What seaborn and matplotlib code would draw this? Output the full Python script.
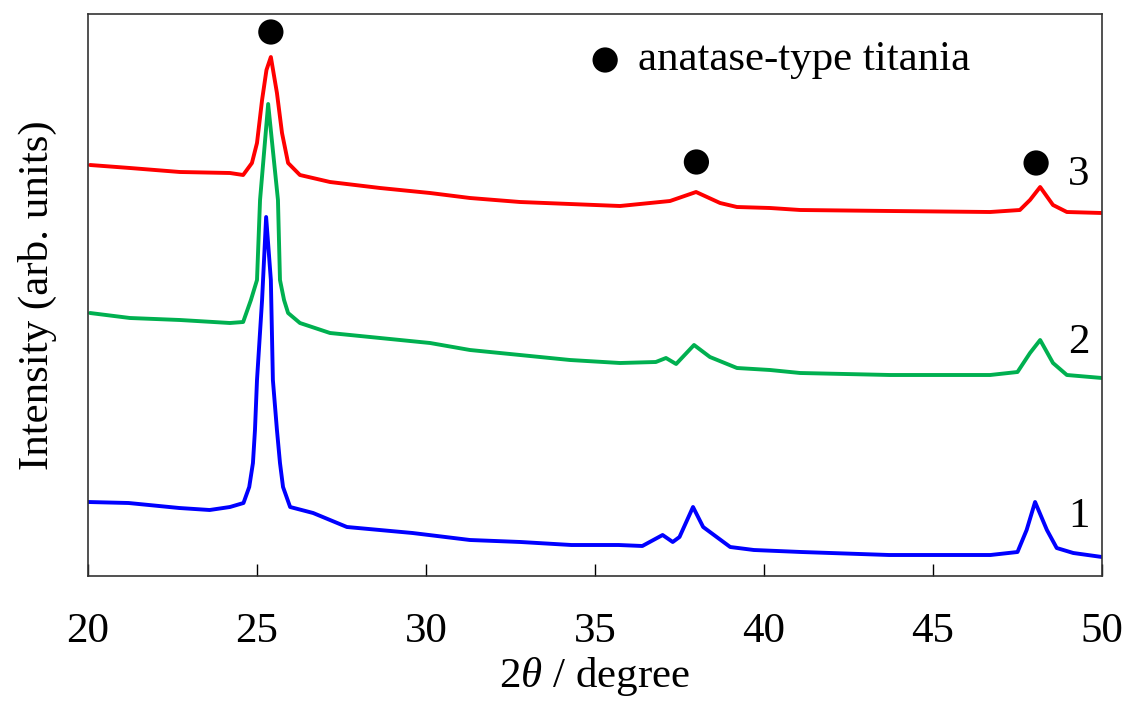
import numpy as np
import pandas as pd
import matplotlib
matplotlib.use("Agg")
import matplotlib.pyplot as plt
import seaborn as sns

# ---- data (2theta in degree, intensity in arb. units) ----
x1 = [20.0, 21.2, 22.7, 23.6, 24.2, 24.6, 24.77, 24.88, 24.94, 25.0, 25.15, 25.27,
      25.41, 25.47, 25.59, 25.68, 25.77, 25.98, 26.66, 27.66, 29.6, 31.3, 32.8, 34.3,
      35.7, 36.4, 37.0, 37.3, 37.5, 37.9, 38.2, 38.6, 39.0, 39.7, 41.1, 43.7, 46.7,
      47.5, 47.77, 48.02, 48.37, 48.66, 49.15, 50.0]
y1 = [74, 73, 68, 66, 69, 73, 89, 113, 146, 196, 276, 359,
      296, 196, 146, 113, 89, 69, 63, 49, 43, 36, 34, 31,
      31, 30, 41, 34, 39, 69, 49, 39, 29, 26, 24, 21, 21,
      24, 46, 74, 46, 28, 23, 19]

x2 = [20.06, 21.24, 22.72, 24.2, 24.59, 24.82, 25.0, 25.09, 25.33, 25.62, 25.68, 25.8,
      25.92, 26.27, 27.16, 28.64, 30.12, 31.3, 32.78, 34.26, 35.74, 36.8, 37.1, 37.4,
      37.93, 38.4, 39.2, 40.18, 41.07, 43.73, 46.69, 47.5, 47.87, 48.17, 48.55, 48.96, 50.0]
y2 = [263, 258, 256, 253, 254, 276, 296, 376, 472, 376, 296, 276,
      263, 253, 243, 238, 233, 226, 221, 216, 213, 214, 218, 212,
      231, 219, 208, 206, 203, 201, 201, 204, 223, 236, 213, 201, 198]

x3 = [20.06, 21.24, 22.72, 24.2, 24.59, 24.85, 25.0, 25.15, 25.28, 25.41, 25.59, 25.74,
      25.92, 26.27, 27.16, 28.64, 30.12, 31.3, 32.78, 34.26, 35.74, 37.22, 37.99, 38.7,
      39.2, 40.18, 41.07, 43.73, 46.69, 47.57, 47.87, 48.17, 48.55, 48.96, 50.0]
y3 = [411, 408, 404, 403, 401, 413, 433, 476, 506, 519, 483, 443,
      413, 401, 394, 388, 383, 378, 374, 372, 370, 375, 384, 373,
      369, 368, 366, 365, 364, 366, 376, 389, 371, 364, 363]

samples = ["1", "2", "3"]
colors = {"1": "#0000FF", "2": "#00B050", "3": "#FF0000"}

# anatase peak markers
peak_x = [25.41, 38.0, 48.05]
peak_y = [544, 414, 413]
legend_label = "anatase-type titania"
legend_dot = (35.3, 516)
label_pos_x = 49.32
label_pos_y = [59, 233, 401]

xticks = [20, 25, 30, 35, 40, 45, 50]

df = pd.concat([
    pd.DataFrame({"two_theta": x1, "intensity": y1, "sample": "1"}),
    pd.DataFrame({"two_theta": x2, "intensity": y2, "sample": "2"}),
    pd.DataFrame({"two_theta": x3, "intensity": y3, "sample": "3"}),
], ignore_index=True)

sns.set_theme(style="white")
plt.rcParams["font.family"] = ["Liberation Serif", "DejaVu Serif"]
plt.rcParams["mathtext.fontset"] = "custom"
plt.rcParams["mathtext.rm"] = "Liberation Serif"
plt.rcParams["mathtext.it"] = "Liberation Serif:italic"
plt.rcParams["text.color"] = "black"
plt.rcParams["axes.labelcolor"] = "black"
plt.rcParams["xtick.color"] = "black"
plt.rcParams["xtick.labelcolor"] = "black"

fig = plt.figure(figsize=(11.3, 7.09), dpi=100)
ax = fig.add_axes([88 / 1130, 1 - 576 / 709, (1102 - 88) / 1130, (576 - 14) / 709])

sns.lineplot(data=df, x="two_theta", y="intensity", hue="sample", palette=colors,
             estimator=None, sort=False, linewidth=2.8, legend=False, ax=ax)

sns.scatterplot(x=peak_x, y=peak_y, color="black", s=330, edgecolor="none", ax=ax)
sns.scatterplot(x=[legend_dot[0]], y=[legend_dot[1]], color="black", s=330,
                edgecolor="none", ax=ax)
ax.text(36.27, legend_dot[1], legend_label, fontsize=31, va="center", ha="left",
        color="black")

for s, yy in zip(samples, label_pos_y):
    ax.text(label_pos_x, yy, s, fontsize=31, va="center", ha="center", color="black")

ax.set_xlim(20, 50)
ax.set_ylim(0, 562)
ax.set_xticks(xticks)
ax.set_xticklabels([str(t) for t in xticks])
ax.set_yticks([])
ax.tick_params(axis="x", direction="in", length=8.6, width=1.0, color="black",
               labelcolor="black", labelsize=31, pad=26, bottom=True, top=False)
for sp in ax.spines.values():
    sp.set_color("#333333")
    sp.set_linewidth(1.2)

ax.set_xlabel(r"2$\theta$ / degree", fontsize=31, labelpad=3, color="black")
ax.set_ylabel("Intensity (arb. units)", fontsize=31, labelpad=22, color="black")

fig.savefig("out.png", dpi=100)
